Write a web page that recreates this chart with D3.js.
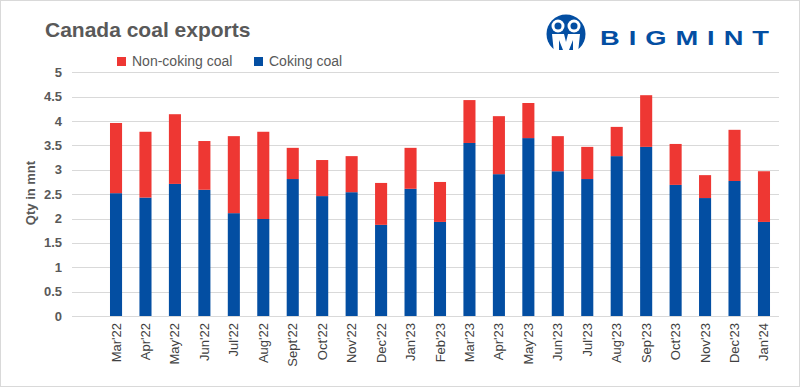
<!DOCTYPE html>
<html>
<head>
<meta charset="utf-8">
<script src="https://cdn.jsdelivr.net/npm/d3@7"></script>
<style>
  body { margin: 0; background: #fff; }
  svg text { font-family: "Liberation Sans", Arial, sans-serif; }
</style>
</head>
<body>
<div id="chart"></div>
<script>
const months = ["Mar'22","Apr'22","May'22","Jun'22","Jul'22","Aug'22","Sept'22","Oct'22","Nov'22","Dec'22","Jan'23","Feb'23",
  "Mar'23","Apr'23","May'23","Jun'23","Jul'23","Aug'23","Sep'23","Oct'23","Nov'23","Dec'23","Jan'24"];
const cokingCoal = [2.52,2.43,2.71,2.59,2.11,1.99,2.81,2.46,2.54,1.87,2.61,1.93,
  3.55,2.91,3.65,2.97,2.81,3.28,3.47,2.69,2.42,2.77,1.93];
const nonCokingCoal = [1.44,1.35,1.43,1.00,1.58,1.79,0.64,0.74,0.74,0.86,0.84,0.82,
  0.88,1.19,0.72,0.72,0.66,0.60,1.06,0.84,0.47,1.05,1.04];
const yTicks = [0,0.5,1,1.5,2,2.5,3,3.5,4,4.5,5];

const colors = { coking: "#034EA2", nonCoking: "#EE3733" };

const width = 801, height = 388;
const svg = d3.select("#chart").append("svg")
  .attr("width", width).attr("height", height);

// cadre
svg.append("rect")
  .attr("x", 0.5).attr("y", 0.5)
  .attr("width", width - 2).attr("height", height - 2)
  .attr("fill", "#fff").attr("stroke", "#d9d9d9");

const rows = months.map((m, i) => ({ month: m, coking: cokingCoal[i], nonCoking: nonCokingCoal[i] }));

const x = d3.scaleBand()
  .domain(months)
  .range([101.3, 778.7])
  .paddingInner(0.59)
  .paddingOuter(0.295);

const y = d3.scaleLinear().domain([0, 5]).range([316, 72.3]);

// grille
svg.append("g").selectAll("line")
  .data(yTicks)
  .enter().append("line")
  .attr("x1", 72).attr("x2", 779)
  .attr("y1", d => Math.round(y(d)) + 0.5)
  .attr("y2", d => Math.round(y(d)) + 0.5)
  .attr("stroke", "#d9d9d9").attr("stroke-width", 1);

// Axe Y
svg.append("g").selectAll("text")
  .data(yTicks)
  .enter().append("text")
  .attr("x", 62)
  .attr("y", d => y(d) + 4.5)
  .attr("text-anchor", "end")
  .style("font-size", "13px")
  .style("font-weight", "bold")
  .attr("fill", "#595959")
  .text(d => d);

svg.append("text")
  .attr("transform", "translate(35,193) rotate(-90)")
  .attr("text-anchor", "middle")
  .style("font-size", "13px")
  .style("font-weight", "bold")
  .attr("fill", "#595959")
  .text("Qty in mnt");

// Barres empilées
const stack = d3.stack().keys(["coking", "nonCoking"]);
const series = stack(rows);

svg.append("g").selectAll("g")
  .data(series)
  .enter().append("g")
  .attr("fill", d => colors[d.key])
  .selectAll("rect")
  .data(d => d)
  .enter().append("rect")
  .attr("x", d => x(d.data.month))
  .attr("y", d => y(d[1]))
  .attr("width", x.bandwidth())
  .attr("height", d => y(d[0]) - y(d[1]));

// Axe X
svg.append("g").selectAll("text")
  .data(months)
  .enter().append("text")
  .attr("transform", d => `translate(${x(d) + x.bandwidth() / 2 + 4.5},323) rotate(-90)`)
  .attr("text-anchor", "end")
  .style("font-size", "13px")
  .attr("fill", "#404040")
  .text(d => d);

// Titre
svg.append("text")
  .attr("x", 45).attr("y", 37)
  .style("font-size", "21px")
  .style("font-weight", "bold")
  .attr("fill", "#595959")
  .text("Canada coal exports");

// Légende
const legend = [
  { label: "Non-coking coal", color: colors.nonCoking, x: 117 },
  { label: "Coking coal", color: colors.coking, x: 254 }
];
const lg = svg.append("g").selectAll("g")
  .data(legend)
  .enter().append("g")
  .attr("transform", d => `translate(${d.x},57)`);
lg.append("rect").attr("width", 9).attr("height", 9).attr("fill", d => d.color);
lg.append("text")
  .attr("x", 15).attr("y", 8.8)
  .style("font-size", "14px")
  .attr("fill", "#595959")
  .text(d => d.label);

// Logo BIGMINT
const logo = svg.append("g").attr("transform", "translate(566,34)");
logo.append("circle").attr("r", 19.5).attr("fill", colors.coking);
[-8, 8].forEach(dx => {
  logo.append("circle").attr("cx", dx).attr("cy", -8).attr("r", 6.5).attr("fill", "#fff");
  logo.append("circle").attr("cx", dx).attr("cy", -8).attr("r", 3.5).attr("fill", colors.coking);
});
logo.append("path")
  .attr("d", "M-14,0 L-2,0 L0,8 L2,0 L14,0 L12,19 L7,19 L7,6 L3,16 L-3,16 L-7,6 L-7,19 L-12,19 Z")
  .attr("fill", "#fff");
logo.append("rect").attr("x", -22).attr("y", 16).attr("width", 44).attr("height", 6).attr("fill", "#fff");

svg.append("g")
  .attr("transform", "translate(600,44.5) scale(1.3,1)")
  .append("text")
  .style("font-size", "21px")
  .style("font-weight", "bold")
  .style("letter-spacing", "6.9px")
  .attr("fill", colors.coking)
  .text("BIGMINT");
</script>
</body>
</html>
